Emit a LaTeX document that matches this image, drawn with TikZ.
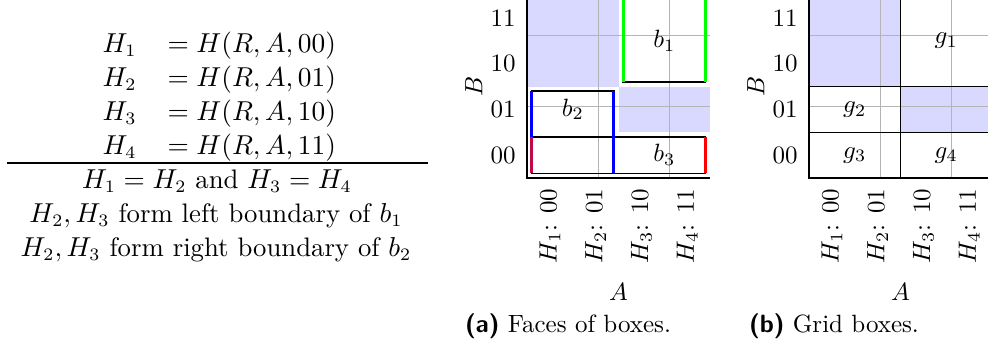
\documentclass[tikz,border=0pt]{standalone}
\definecolor{shadec}{RGB}{217,217,255}
\definecolor{gridc}{RGB}{180,180,180}
\definecolor{mixred}{RGB}{190,10,70}
\begin{document}
\begin{tikzpicture}[x=0.4pt,y=-0.4pt,
  txt/.style={inner sep=0pt},
  tabtxt/.style={inner sep=0pt,font=\fontsize{10.7}{13.4}\selectfont},
  gridline/.style={draw=gridc,line width=0.5pt},
  axisline/.style={draw=black,line width=0.5pt},
  boxline/.style={draw=black,line width=0.6pt},
  faceline/.style={line width=1.2pt},
  shaded/.style={fill=shadec},
  yticklab/.style={inner sep=0pt,anchor=east},
  xticklab/.style={inner sep=0pt,anchor=east,rotate=90},
  axlab/.style={inner sep=0pt},
]
\useasboundingbox (0,0) rectangle (988,347);
\clip (0,0) rectangle (988,347);

% ---------- left table ----------
\node[tabtxt,anchor=base west] (h1) at (102,52) {$H_1$};
\node[tabtxt,anchor=base west] (e1) at (167,52) {$=H(R,A,00)$};
\node[tabtxt,anchor=base west] (h2) at (102,86) {$H_2$};
\node[tabtxt,anchor=base west] (e2) at (167,86) {$=H(R,A,01)$};
\node[tabtxt,anchor=base west] (h3) at (102,120) {$H_3$};
\node[tabtxt,anchor=base west] (e3) at (167,120) {$=H(R,A,10)$};
\node[tabtxt,anchor=base west] (h4) at (102,154) {$H_4$};
\node[tabtxt,anchor=base west] (e4) at (167,154) {$=H(R,A,11)$};
\coordinate (rl) at (7,163);
\coordinate (rr) at (428,163);
\draw[line width=0.5pt] (rl) -- (rr);
\node[tabtxt,anchor=base] (l1) at (217,188) {$H_1=H_2$ and $H_3=H_4$};
\node[tabtxt,anchor=base] (l2) at (216,222) {$H_2,H_3$ form left boundary of $b_1$};
\node[tabtxt,anchor=base] (l3) at (216,256) {$H_2,H_3$ form right boundary of $b_2$};

% ---------- plot (a) ----------
\begin{scope}[shift={(527,178)},x=18.3pt,y=18.3pt]
  \fill[shaded] (0,2) rectangle (2,4);
  \fill[shaded] (2,1) rectangle (4,2);
  \draw[gridline] (0,0) grid (4,4);
  \draw[axisline] (0,4) -- (0,0) -- (4,0);
  % boxes
  \draw[boxline] (2.1,2.1) rectangle (3.9,3.9);
  \draw[boxline] (0.1,0.1) rectangle (1.9,1.9);
  \draw[boxline] (0.1,0.1) rectangle (3.9,0.9);
  % faces
  \draw[faceline,green] (2.1,2.1) -- (2.1,3.9);
  \draw[faceline,green] (3.9,2.1) -- (3.9,3.9);
  \draw[faceline,blue] (0.1,0.9) -- (0.1,1.9);
  \draw[faceline,blue] (1.9,0.1) -- (1.9,1.9);
  \draw[faceline,mixred] (0.1,0.1) -- (0.1,0.9);
  \draw[faceline,red] (3.9,0.1) -- (3.9,0.9);
  \node[txt] (b1) at (3,3) {$b_1$};
  \node[txt] (b2) at (1,1.5) {$b_2$};
  \node[txt] (b3) at (3,0.5) {$b_3$};
  % ticks
  \node[yticklab] (ay0) at (-0.24,0.5) {00};
  \node[yticklab] (ay1) at (-0.24,1.5) {01};
  \node[yticklab] (ay2) at (-0.24,2.5) {10};
  \node[yticklab] (ay3) at (-0.24,3.5) {11};
  \node[xticklab] (ax0) at (0.5,-0.22) {$H_1$: 00};
  \node[xticklab] (ax1) at (1.5,-0.22) {$H_2$: 01};
  \node[xticklab] (ax2) at (2.5,-0.22) {$H_3$: 10};
  \node[xticklab] (ax3) at (3.5,-0.22) {$H_4$: 11};
  \node[axlab] (aA) at (2,-2.49) {$A$};
  \node[axlab,rotate=90] (aB) at (-1.16,2) {$B$};
\end{scope}

% ---------- plot (b) ----------
\begin{scope}[shift={(809,178)},x=18.3pt,y=18.3pt]
  \fill[shaded] (0,2) rectangle (2,4);
  \fill[shaded] (2,1) rectangle (4,2);
  \draw[gridline] (0,0) grid (4,4);
  \draw[boxline] (2,2) rectangle (4,4);
  \draw[boxline] (0,1) rectangle (2,2);
  \draw[boxline] (0,0) rectangle (2,1);
  \draw[boxline] (2,0) rectangle (4,1);
  \draw[axisline] (0,4) -- (0,0) -- (4,0);
  \node[txt] (g1) at (3,3) {$g_1$};
  \node[txt] (g2) at (1,1.5) {$g_2$};
  \node[txt] (g3) at (1,0.5) {$g_3$};
  \node[txt] (g4) at (3,0.5) {$g_4$};
  \node[yticklab] (by0) at (-0.24,0.5) {00};
  \node[yticklab] (by1) at (-0.24,1.5) {01};
  \node[yticklab] (by2) at (-0.24,2.5) {10};
  \node[yticklab] (by3) at (-0.24,3.5) {11};
  \node[xticklab] (bx0) at (0.5,-0.22) {$H_1$: 00};
  \node[xticklab] (bx1) at (1.5,-0.22) {$H_2$: 01};
  \node[xticklab] (bx2) at (2.5,-0.22) {$H_3$: 10};
  \node[xticklab] (bx3) at (3.5,-0.22) {$H_4$: 11};
  \node[axlab] (bA) at (2,-2.49) {$A$};
  \node[axlab,rotate=90] (bB) at (-1.16,2) {$B$};
\end{scope}

% ---------- captions ----------
\node[txt,anchor=base] (capa) at (568,332) {\textsf{\textbf{(a)}} Faces of boxes.};
\node[txt,anchor=base] (capb) at (834,332) {\textsf{\textbf{(b)}} Grid boxes.};
\end{tikzpicture}
\end{document}
